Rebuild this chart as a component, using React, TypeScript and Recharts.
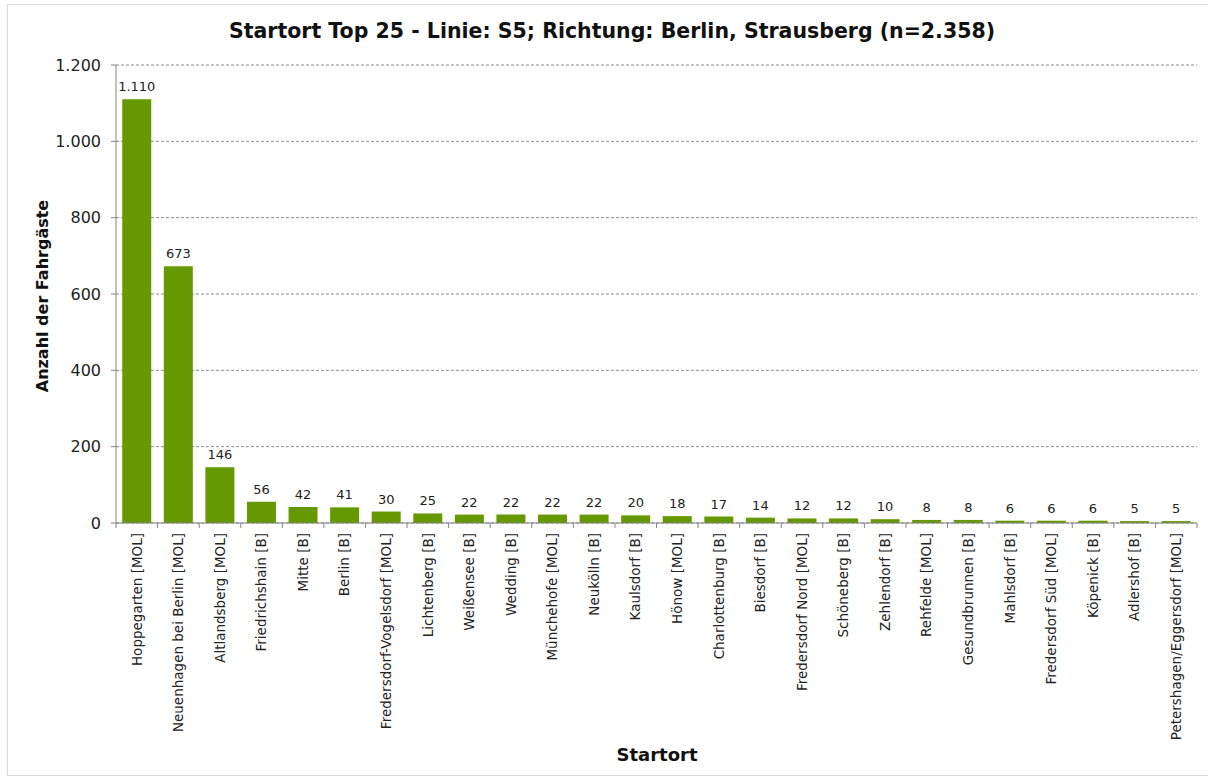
import { BarChart, Bar, XAxis, YAxis, CartesianGrid, LabelList } from 'recharts';

const places = [
  'Hoppegarten [MOL]',
  'Neuenhagen bei Berlin [MOL]',
  'Altlandsberg [MOL]',
  'Friedrichshain [B]',
  'Mitte [B]',
  'Berlin [B]',
  'Fredersdorf-Vogelsdorf [MOL]',
  'Lichtenberg [B]',
  'Weißensee [B]',
  'Wedding [B]',
  'Münchehofe [MOL]',
  'Neukölln [B]',
  'Kaulsdorf [B]',
  'Hönow [MOL]',
  'Charlottenburg [B]',
  'Biesdorf [B]',
  'Fredersdorf Nord [MOL]',
  'Schöneberg [B]',
  'Zehlendorf [B]',
  'Rehfelde [MOL]',
  'Gesundbrunnen [B]',
  'Mahlsdorf [B]',
  'Fredersdorf Süd [MOL]',
  'Köpenick [B]',
  'Adlershof [B]',
  'Petershagen/Eggersdorf [MOL]',
];

const passengers = [1110, 673, 146, 56, 42, 41, 30, 25, 22, 22, 22, 22, 20, 18, 17, 14, 12, 12, 10, 8, 8, 6, 6, 6, 5, 5];

const yTicks = [0, 200, 400, 600, 800, 1000, 1200];

const data = places.map((name, i) => ({ name, value: passengers[i] }));

const fmt = (v: any) => Number(v).toLocaleString('de-DE');

const FONT = 'DejaVu Sans, Verdana, sans-serif';

function PlaceTick(props: any) {
  const { x, y, payload, index, width } = props;
  const band = (width || 1081) / places.length;
  const axisY = y - 8;
  const left = x - band / 2;
  return (
    <g>
      <line x1={left} y1={axisY} x2={left} y2={axisY + 5} stroke="#868686" />
      {index === places.length - 1 && (
        <line x1={x + band / 2} y1={axisY} x2={x + band / 2} y2={axisY + 5} stroke="#868686" />
      )}
      <g transform={`translate(${x},${axisY + 10}) rotate(-90)`}>
        <text textAnchor="end" dy="0.35em" fontSize={13.5} fill="#222" fontFamily={FONT}>
          {payload.value}
        </text>
      </g>
    </g>
  );
}

export default function App() {
  return (
    <div style={{ position: 'absolute', left: 0, top: 0, width: 1208, height: 780, background: '#fff' }}>
      <div
        style={{
          position: 'absolute',
          left: 7,
          top: 4,
          width: 1210,
          height: 772,
          border: '1px solid #d9d9d9',
          boxSizing: 'border-box',
        }}
      />
      <div
        style={{
          position: 'absolute',
          left: 0,
          width: 1224,
          top: 19,
          textAlign: 'center',
          fontFamily: FONT,
          fontWeight: 'bold',
          fontSize: 20.5,
          color: '#111',
        }}
      >
        Startort Top 25 - Linie: S5; Richtung: Berlin, Strausberg (n=2.358)
      </div>
      <div
        style={{
          position: 'absolute',
          left: 42,
          top: 296,
          transform: 'translate(-50%, -50%) rotate(-90deg)',
          whiteSpace: 'nowrap',
          fontFamily: FONT,
          fontWeight: 'bold',
          fontSize: 16,
          color: '#111',
        }}
      >
        Anzahl der Fahrgäste
      </div>
      <div
        style={{
          position: 'absolute',
          left: 657,
          top: 754,
          transform: 'translate(-50%, -50%)',
          fontFamily: FONT,
          fontWeight: 'bold',
          fontSize: 18,
          color: '#111',
        }}
      >
        Startort
      </div>
      <BarChart
        width={1208}
        height={780}
        data={data}
        margin={{ top: 65, right: 11, left: 0, bottom: 0 }}
        barCategoryGap="15%"
        style={{ position: 'absolute', left: 0, top: 0 }}
      >
        <CartesianGrid vertical={false} stroke="#8c8c8c" strokeDasharray="3 2" />
        <XAxis
          dataKey="name"
          interval={0}
          height={257}
          tickLine={false}
          axisLine={{ stroke: '#868686' }}
          tick={<PlaceTick />}
        />
        <YAxis
          width={116}
          domain={[0, 1200]}
          ticks={yTicks}
          tickFormatter={fmt}
          tickSize={5}
          tickMargin={10}
          tickLine={{ stroke: '#868686' }}
          axisLine={{ stroke: '#868686' }}
          tick={{ fontSize: 16, fill: '#222', fontFamily: FONT }}
        />
        <Bar dataKey="value" fill="#669900" isAnimationActive={false}>
          <LabelList
            dataKey="value"
            position="top"
            offset={8}
            formatter={fmt}
            style={{ fontSize: 13, fill: '#222', fontFamily: FONT }}
          />
        </Bar>
      </BarChart>
    </div>
  );
}
